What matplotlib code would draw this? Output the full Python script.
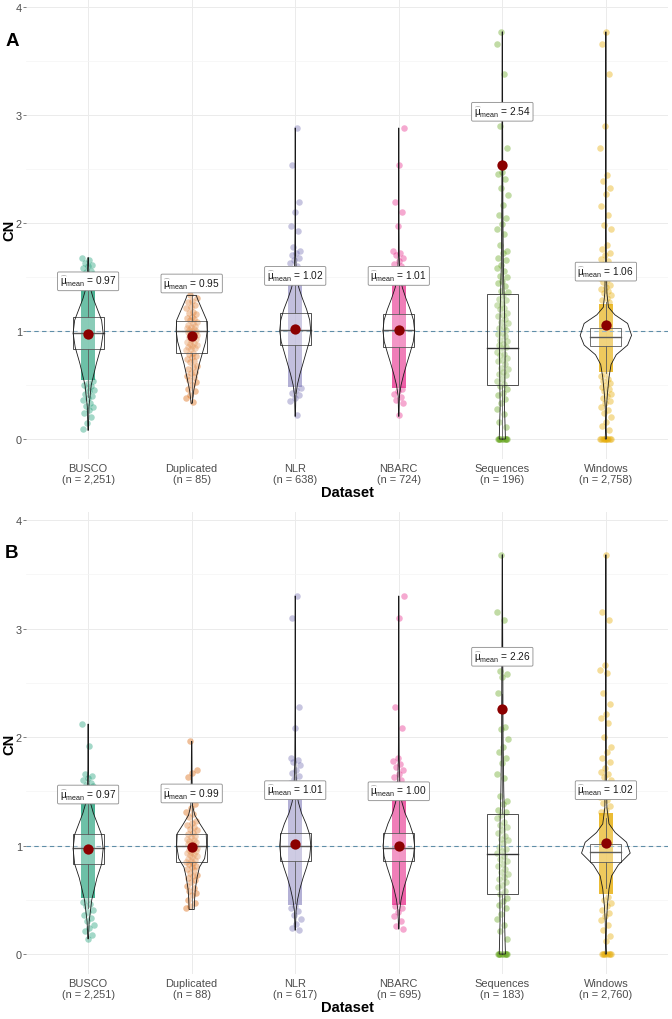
import matplotlib
matplotlib.use("Agg")
import matplotlib.pyplot as plt
from matplotlib.patches import Rectangle, Polygon
import numpy as np

plt.rcParams['font.family'] = ['Liberation Sans', 'DejaVu Sans']
plt.rcParams['mathtext.fontset'] = 'custom'
plt.rcParams['mathtext.rm'] = 'Liberation Sans'
plt.rcParams['mathtext.it'] = 'Liberation Sans'
plt.rcParams['mathtext.bf'] = 'Liberation Sans:bold'

# ---------------- data ----------------
categories = ["BUSCO", "Duplicated", "NLR", "NBARC", "Sequences", "Windows"]
colors = ["#1B9E77", "#D95F02", "#7570B3", "#E7298A", "#66A61E", "#E6AB02"]

n_A = ["2,251", "85", "638", "724", "196", "2,758"]
n_B = ["2,251", "88", "617", "695", "183", "2,760"]

mean_A = [0.97, 0.95, 1.02, 1.01, 2.54, 1.06]
mean_B = [0.97, 0.99, 1.01, 1.00, 2.26, 1.02]
label_y_A = [1.46, 1.44, 1.51, 1.51, 3.03, 1.55]
label_y_B = [1.47, 1.48, 1.51, 1.50, 2.74, 1.51]

# box stats: q1, median, q3, whisker low, whisker high
q1_A = [0.833, 0.800, 0.870, 0.849, 0.500, 0.858]
med_A = [0.979, 0.997, 1.012, 1.009, 0.843, 0.947]
q3_A = [1.127, 1.096, 1.164, 1.157, 1.343, 1.025]
wlo_A = [0.39, 0.34, 0.43, 0.39, 0.00, 0.61]
whi_A = [1.56, 1.33, 1.60, 1.62, 2.60, 1.27]

q1_B = [0.829, 0.845, 0.860, 0.860, 0.550, 0.850]
med_B = [0.974, 0.998, 0.995, 0.980, 0.920, 0.940]
q3_B = [1.106, 1.106, 1.120, 1.120, 1.290, 1.010]
wlo_B = [0.42, 0.42, 0.47, 0.47, 0.00, 0.61]
whi_B = [1.52, 1.49, 1.51, 1.51, 2.40, 1.25]

# violin outlines: CN levels and half-widths (category units)
violin_y_A = [
    [0.08, 0.30, 0.50, 0.70, 0.85, 0.98, 1.10, 1.20, 1.30, 1.40, 1.50, 1.68],
    [0.33, 0.45, 0.57, 0.70, 0.80, 0.90, 1.00, 1.10, 1.20, 1.30, 1.33],
    [0.21, 0.40, 0.50, 0.60, 0.70, 0.80, 0.90, 1.00, 1.10, 1.20, 1.30, 1.40, 1.50, 1.70, 2.00, 2.88],
    [0.21, 0.40, 0.50, 0.60, 0.70, 0.80, 0.90, 1.00, 1.10, 1.20, 1.30, 1.40, 1.50, 1.70, 2.00, 2.88],
    [0.00, 0.10, 0.30, 0.50, 0.80, 1.00, 1.30, 1.60, 2.00, 2.50, 3.00, 3.77],
    [0.00, 0.10, 0.30, 0.42, 0.57, 0.69, 0.78, 0.87, 0.96, 1.07, 1.15, 1.22, 1.35, 1.60, 2.00, 3.00, 3.77],
]
violin_w_A = [
    [0.002, 0.008, 0.030, 0.080, 0.125, 0.145, 0.130, 0.090, 0.050, 0.020, 0.008, 0.002],
    [0.005, 0.020, 0.045, 0.075, 0.105, 0.135, 0.150, 0.145, 0.100, 0.055, 0.045],
    [0.002, 0.006, 0.020, 0.045, 0.075, 0.105, 0.135, 0.150, 0.140, 0.110, 0.070, 0.035, 0.012, 0.004, 0.002, 0.001],
    [0.002, 0.006, 0.022, 0.048, 0.078, 0.110, 0.140, 0.153, 0.142, 0.110, 0.070, 0.035, 0.012, 0.004, 0.002, 0.001],
    [0.030, 0.027, 0.021, 0.024, 0.027, 0.025, 0.018, 0.010, 0.006, 0.004, 0.003, 0.002],
    [0.006, 0.003, 0.006, 0.015, 0.030, 0.050, 0.100, 0.210, 0.248, 0.210, 0.087, 0.025, 0.010, 0.005, 0.003, 0.002, 0.001],
]
violin_y_B = [
    [0.14, 0.30, 0.50, 0.70, 0.83, 0.97, 1.10, 1.20, 1.30, 1.40, 1.50, 1.70, 2.12],
    [0.41, 0.50, 0.60, 0.71, 0.80, 0.88, 1.00, 1.11, 1.20, 1.28, 1.37, 1.60, 1.96],
    [0.22, 0.40, 0.50, 0.60, 0.70, 0.80, 0.90, 1.00, 1.10, 1.20, 1.30, 1.40, 1.50, 1.80, 2.30, 3.30],
    [0.23, 0.40, 0.50, 0.60, 0.70, 0.80, 0.90, 1.00, 1.10, 1.20, 1.30, 1.40, 1.50, 1.80, 2.30, 3.30],
    [0.00, 0.10, 0.30, 0.60, 0.90, 1.20, 1.50, 2.00, 2.60, 3.10, 3.68],
    [0.00, 0.10, 0.30, 0.45, 0.60, 0.72, 0.82, 0.93, 1.03, 1.12, 1.20, 1.35, 1.70, 2.50, 3.68],
]
violin_w_B = [
    [0.003, 0.010, 0.035, 0.085, 0.130, 0.145, 0.130, 0.090, 0.050, 0.020, 0.008, 0.003, 0.001],
    [0.025, 0.028, 0.035, 0.053, 0.075, 0.125, 0.145, 0.140, 0.080, 0.030, 0.008, 0.004, 0.002],
    [0.002, 0.008, 0.022, 0.045, 0.075, 0.110, 0.140, 0.150, 0.140, 0.105, 0.060, 0.030, 0.012, 0.004, 0.002, 0.001],
    [0.002, 0.008, 0.022, 0.046, 0.078, 0.112, 0.142, 0.152, 0.140, 0.105, 0.060, 0.030, 0.012, 0.004, 0.002, 0.001],
    [0.030, 0.027, 0.022, 0.025, 0.028, 0.022, 0.014, 0.007, 0.005, 0.003, 0.002],
    [0.006, 0.003, 0.006, 0.015, 0.030, 0.055, 0.120, 0.235, 0.200, 0.090, 0.030, 0.010, 0.005, 0.002, 0.001],
]

# dense, fully overlapping point columns (low, high CN)
band_lo_A = [0.55, None, 0.48, 0.47, None, 0.62]
band_hi_A = [1.42, None, 1.45, 1.47, None, 1.25]
band_lo_B = [0.52, None, 0.45, 0.45, None, 0.55]
band_hi_B = [1.48, None, 1.48, 1.48, None, 1.30]

# individually visible points
pts_A = [
    [1.68, 1.66, 1.63, 1.61, 1.60, 1.58, 1.56, 1.55, 1.53, 1.51, 1.50, 1.48, 1.47, 1.45, 1.44, 1.43,
     0.54, 0.52, 0.50, 0.49, 0.47, 0.45, 0.44, 0.42, 0.40, 0.38, 0.36, 0.33, 0.31, 0.30, 0.27, 0.24, 0.20, 0.15, 0.09],
    [1.33, 1.31, 1.28, 1.27, 1.24, 1.22, 1.21, 1.18, 1.17, 1.16, 1.13, 1.12, 1.11, 1.10, 1.08, 1.07, 1.06, 1.05,
     1.04, 1.03, 1.02, 1.01, 1.00, 1.00, 0.99, 0.98, 0.97, 0.96, 0.95, 0.94, 0.93, 0.92, 0.90, 0.89, 0.88, 0.87,
     0.86, 0.85, 0.84, 0.83, 0.82, 0.80, 0.79, 0.77, 0.76, 0.74, 0.72, 0.71, 0.68, 0.67, 0.65, 0.62, 0.61, 0.58,
     0.57, 0.55, 0.53, 0.50, 0.46, 0.44, 0.41, 0.38, 0.34],
    [2.88, 2.54, 2.19, 2.10, 1.97, 1.93, 1.78, 1.74, 1.72, 1.70, 1.68, 1.66, 1.63, 1.60, 1.57, 1.55, 1.52, 1.50, 1.48, 1.46,
     0.47, 0.45, 0.43, 0.41, 0.38, 0.35, 0.22],
    [2.88, 2.54, 2.19, 2.10, 1.97, 1.74, 1.72, 1.70, 1.68, 1.65, 1.62, 1.60, 1.57, 1.54, 1.51, 1.49,
     0.46, 0.44, 0.42, 0.39, 0.36, 0.33, 0.22],
    [0, 0, 0, 0, 0, 0, 0, 0, 0, 0,
     3.77, 3.66, 3.38, 2.90, 2.69, 2.47, 2.45, 2.41, 2.32, 2.26, 2.17, 2.07, 2.05, 1.99, 1.94, 1.90, 1.80, 1.74, 1.72,
     1.68, 1.66, 1.61, 1.58, 1.56, 1.51, 1.50, 1.46, 1.44, 1.42, 1.37, 1.36, 1.33, 1.30, 1.29, 1.25, 1.24, 1.21,
     1.20, 1.17, 1.15, 1.14, 1.11, 1.08, 1.07, 1.04, 1.03, 1.01, 0.98, 0.97, 0.95, 0.92, 0.91, 0.88, 0.87, 0.85,
     0.84, 0.81, 0.79, 0.78, 0.75, 0.73, 0.72, 0.69, 0.66, 0.65, 0.62, 0.60, 0.59, 0.56, 0.54, 0.51, 0.49, 0.46,
     0.43, 0.41, 0.37, 0.33, 0.28, 0.23, 0.16, 0.11],
    [3.77, 3.66, 3.38, 2.90, 2.69, 2.44, 2.39, 2.32, 2.27, 2.16, 2.07, 1.98, 1.94, 1.80, 1.76, 1.72, 1.70, 1.67,
     1.65, 1.62, 1.60, 1.58, 1.55, 1.53, 1.51, 1.49, 1.47, 1.45, 1.43, 1.41, 1.39, 1.37, 1.35, 1.33, 1.31, 1.29, 1.27,
     0.60, 0.58, 0.56, 0.54, 0.52, 0.50, 0.48, 0.46, 0.44, 0.42, 0.40, 0.38, 0.35, 0.33, 0.30, 0.27, 0.24, 0.20,
     0.16, 0.12, 0.08, 0, 0, 0, 0, 0, 0, 0, 0, 0, 0],
]
pts_B = [
    [2.12, 1.92, 1.66, 1.64, 1.62, 1.60, 1.58, 1.56, 1.55, 1.53, 1.51, 1.50,
     0.50, 0.48, 0.46, 0.44, 0.41, 0.39, 0.36, 0.33, 0.30, 0.27, 0.24, 0.21, 0.18, 0.14],
    [1.96, 1.70, 1.67, 1.63, 1.38, 1.35, 1.31, 1.29, 1.26, 1.23, 1.21, 1.19, 1.17, 1.15, 1.14, 1.12, 1.11, 1.09,
     1.08, 1.06, 1.05, 1.04, 1.03, 1.02, 1.01, 1.00, 0.99, 0.98, 0.97, 0.96, 0.95, 0.94, 0.93, 0.92, 0.91, 0.90,
     0.89, 0.88, 0.87, 0.86, 0.85, 0.84, 0.83, 0.81, 0.80, 0.78, 0.77, 0.75, 0.73, 0.72, 0.70, 0.68, 0.66, 0.63,
     0.61, 0.58, 0.56, 0.54, 0.50, 0.47, 0.44, 0.42],
    [3.30, 3.10, 2.28, 2.08, 1.81, 1.79, 1.77, 1.74, 1.70, 1.67, 1.64, 1.61, 1.58, 1.55, 1.52, 1.50,
     0.44, 0.42, 0.40, 0.36, 0.32, 0.28, 0.24, 0.22],
    [3.30, 3.10, 2.28, 2.08, 1.81, 1.78, 1.75, 1.72, 1.70, 1.66, 1.63, 1.60, 1.57, 1.54, 1.51,
     0.44, 0.42, 0.39, 0.35, 0.30, 0.26, 0.23],
    [0, 0, 0, 0, 0, 0, 0, 0, 0, 0,
     3.68, 3.15, 3.08, 2.61, 2.58, 2.55, 2.41, 2.09, 2.07, 1.98, 1.91, 1.86, 1.81, 1.76, 1.66, 1.62, 1.46,
     1.41, 1.38, 1.33, 1.31, 1.28, 1.25, 1.22, 1.19, 1.17, 1.14, 1.12, 1.09, 1.06, 1.05, 1.02, 0.99, 0.97,
     0.95, 0.93, 0.90, 0.88, 0.86, 0.83, 0.81, 0.78, 0.76, 0.74, 0.71, 0.69, 0.66, 0.64, 0.62, 0.58, 0.55,
     0.52, 0.49, 0.45, 0.42, 0.37, 0.32, 0.27, 0.21, 0.14],
    [3.68, 3.15, 3.08, 2.66, 2.62, 2.59, 2.41, 2.30, 2.21, 2.18, 2.13, 2.00, 1.91, 1.86, 1.81, 1.77, 1.71,
     1.68, 1.66, 1.63, 1.60, 1.57, 1.54, 1.51, 1.48, 1.45, 1.42, 1.39, 1.36, 1.33, 1.31,
     0.53, 0.50, 0.47, 0.44, 0.41, 0.38, 0.35, 0.31, 0.27, 0.22, 0.17, 0.12, 0, 0, 0, 0, 0, 0, 0, 0],
]

band_alpha = [0.8, 0.0, 0.55, 0.75, 0.0, 0.8]

# ---------------- drawing ----------------
W, H = 672, 1020
fig = plt.figure(figsize=(W / 100, H / 100), dpi=100)

ax_A = fig.add_axes([26 / W, 1 - 460 / H, 642 / W, 460 / H])
ax_B = fig.add_axes([26 / W, 1 - 975 / H, 642 / W, 462 / H])

GRID = "#EBEBEB"
TXT = "#4D4D4D"


def draw_panel(ax, n, means, label_y, q1, med, q3, wlo, whi, vy, vw, blo, bhi, pts, ylim):
    ax.set_xlim(0.4, 6.6)
    ax.set_ylim(*ylim)
    for s in ax.spines.values():
        s.set_visible(False)
    ax.set_yticks([0, 1, 2, 3, 4])
    ax.set_yticks([0.5, 1.5, 2.5, 3.5], minor=True)
    ax.set_xticks(range(1, 7))
    ax.set_xticklabels([f"{c}\n(n = {k})" for c, k in zip(categories, n)],
                       fontsize=7.9, color=TXT, linespacing=1.05)
    ax.tick_params(axis='x', length=0, pad=3)
    ax.tick_params(axis='y', which='major', length=2, width=0.5, color=TXT,
                   labelsize=7.9, labelcolor=TXT, pad=1)
    ax.tick_params(axis='y', which='minor', length=0)
    ax.grid(True, which='major', axis='both', color=GRID, lw=0.7, zorder=0)
    ax.grid(True, which='minor', axis='y', color="#F4F4F4", lw=0.5, zorder=0)
    ax.set_axisbelow(True)
    ax.set_xlabel("Dataset", fontsize=10.5, fontweight='bold', labelpad=1)

    jw = 0.055
    for i in range(6):
        x0 = i + 1
        col = colors[i]
        # dense band of overlapping points
        if blo[i] is not None:
            ax.bar(x0, bhi[i] - blo[i], bottom=blo[i], width=2 * jw + 0.02,
                   color=col, alpha=band_alpha[i], lw=0, zorder=2)
        # individual points (deterministic jitter)
        p = np.array(pts[i], dtype=float)
        k = np.arange(len(p))
        off = ((k * 0.6180339887 + 0.31 * i) % 1.0 - 0.5) * 2 * jw
        ax.scatter(x0 + off, p, s=22, color=col, alpha=0.4, lw=0, zorder=2)
        # box
        bw = 0.15
        ax.add_patch(Rectangle((x0 - bw, q1[i]), 2 * bw, q3[i] - q1[i],
                               fc=(1, 1, 1, 0.2), ec="#333333", lw=0.6, zorder=3))
        ax.plot([x0 - bw, x0 + bw], [med[i], med[i]], color="#333333", lw=1.0, zorder=3)
        ax.plot([x0, x0], [q3[i], whi[i]], color="#333333", lw=0.6, zorder=3)
        ax.plot([x0, x0], [wlo[i], q1[i]], color="#333333", lw=0.6, zorder=3)
        # violin
        yy = np.array(vy[i])
        ww = np.array(vw[i])
        xs = np.concatenate([x0 - ww, (x0 + ww)[::-1]])
        ys = np.concatenate([yy, yy[::-1]])
        ax.add_patch(Polygon(np.column_stack([xs, ys]), closed=True,
                             fc=(1, 1, 1, 0.2), ec="#1a1a1a", lw=0.6, zorder=4))
        # mean point
        ax.scatter([x0], [means[i]], s=55, color="#8B0000", zorder=5, lw=0)
        ax.text(x0, label_y[i], r"$\widehat{\mu}_{\mathrm{mean}}$" + f" = {means[i]:.2f}",
                ha='center', va='center', fontsize=7.3, color="#1a1a1a", zorder=6,
                bbox=dict(boxstyle="round,pad=0.22,rounding_size=0.12", fc="white",
                          ec="#8c8c8c", lw=0.6))
    ax.axhline(1, color="#5f8ea8", lw=0.8, ls=(0, (4, 3)), zorder=2.5)


draw_panel(ax_A, n_A, mean_A, label_y_A, q1_A, med_A, q3_A, wlo_A, whi_A,
           violin_y_A, violin_w_A, band_lo_A, band_hi_A, pts_A, (-0.185, 4.074))
draw_panel(ax_B, n_B, mean_B, label_y_B, q1_B, med_B, q3_B, wlo_B, whi_B,
           violin_y_B, violin_w_B, band_lo_B, band_hi_B, pts_B, (-0.184, 4.074))

fig.text(9 / W, 1 - 230 / H, "CN", fontsize=10.5, fontweight='bold', rotation=90,
         ha='center', va='center')
fig.text(9 / W, 1 - 744 / H, "CN", fontsize=10.5, fontweight='bold', rotation=90,
         ha='center', va='center')
fig.text(12 / W, 1 - 42 / H, "A", fontsize=13.5, fontweight='bold', ha='center', va='center')
fig.text(12 / W, 1 - 554 / H, "B", fontsize=13.5, fontweight='bold', ha='center', va='center')

fig.savefig("out.png", dpi=100, facecolor="white")
